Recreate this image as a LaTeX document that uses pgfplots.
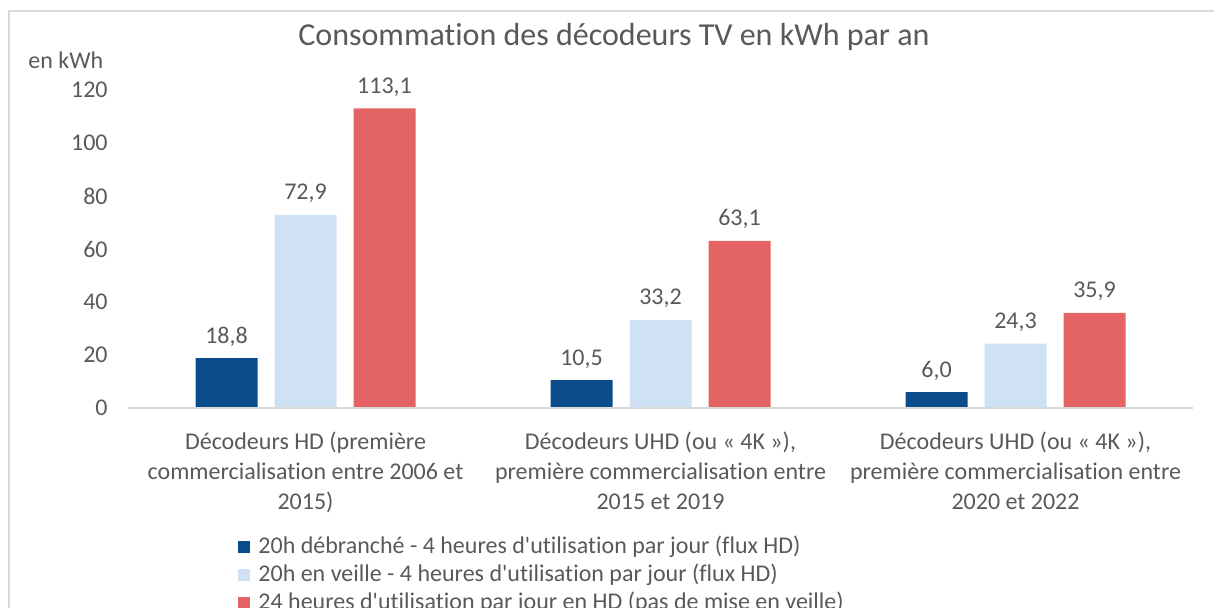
\documentclass[border=0pt]{standalone}
\usepackage{pgfplots}
\pgfplotsset{compat=1.18}
\usepackage{fontspec}
\setmainfont{Carlito}[Ligatures={TeXOff,NoCommon}]
\definecolor{txt}{HTML}{595959}
\definecolor{cA}{HTML}{0B4C8C}
\definecolor{cB}{HTML}{CFE2F3}
\definecolor{cC}{HTML}{E46464}
\definecolor{brd}{HTML}{D9D9D9}
\newcommand{\bfont}{\fontsize{12pt}{15pt}\selectfont}
\begin{document}
\begin{tikzpicture}
\draw[brd, line width=0.8pt] (4.5pt,0pt) -- (4.5pt,298.5pt) -- (610pt,298.5pt);
\node[text=txt, font=\fontsize{16pt}{19pt}\selectfont] at (307pt,285.5pt) {Consommation des décodeurs TV en kWh par an};
\node[text=txt, font=\bfont, anchor=west, inner sep=0pt] at (14pt,274pt) {en kWh};
\begin{axis}[
  at={(64pt,100pt)}, anchor=south west,
  scale only axis, width=532.5pt, height=159pt,
  xmin=-0.5, xmax=2.5, ymin=0, ymax=120,
  ybar=8.5pt, bar width=31pt,
  axis line style={draw=none},
  tick style={draw=none},
  clip=false,
  xtick={0,1,2},
  xticklabels={{Décodeurs HD (première\\commercialisation entre 2006 et\\2015)},
               {Décodeurs UHD (ou « 4K »),\\première commercialisation entre\\2015 et 2019},
               {Décodeurs UHD (ou « 4K »),\\première commercialisation entre\\2020 et 2022}},
  ytick={0,20,...,120},
  /pgf/number format/assume math mode=true,
  tick label style={font=\bfont, text=txt},
  xticklabel style={align=center, inner sep=0pt, anchor=north, yshift=-7.4pt},
  yticklabel style={inner sep=0pt, anchor=east, xshift=-10pt},
  nodes near coords={\pgfmathprintnumber[fixed,fixed zerofill,precision=1,use comma,assume math mode=true]{\pgfplotspointmeta}},
  every node near coord/.append style={font=\bfont, text=txt, inner sep=0pt, anchor=south, yshift=5.8pt},
  legend style={at={(axis description cs:0.1033,-0.401)}, anchor=north west, draw=none, fill=none,
    font=\bfont, text=txt, inner sep=0pt, row sep=2.5pt,
    nodes={inner sep=0pt, text height=9pt, text depth=2.5pt},
    /tikz/every odd column/.append style={column sep=4pt}},
  legend cell align=left,
  legend image code/.code={\fill[#1] (0pt,-3pt) rectangle (6pt,3pt);},
]
\addplot[fill=cA, draw=none] coordinates {(0,18.8) (1,10.5) (2,6.0)};
\addplot[fill=cB, draw=none] coordinates {(0,72.9) (1,33.2) (2,24.3)};
\addplot[fill=cC, draw=none] coordinates {(0,113.1) (1,63.1) (2,35.9)};
\draw[brd, line width=0.8pt] (rel axis cs:0,0) -- (rel axis cs:1,0);
\legend{20h débranché - 4 heures d'utilisation par jour (flux HD),
        20h en veille - 4 heures d'utilisation par jour (flux HD),
        24 heures d'utilisation par jour en HD (pas de mise en veille)}
\end{axis}
\pgfresetboundingbox
\path[use as bounding box] (0pt,0pt) rectangle (607pt,304pt);
\end{tikzpicture}
\end{document}
